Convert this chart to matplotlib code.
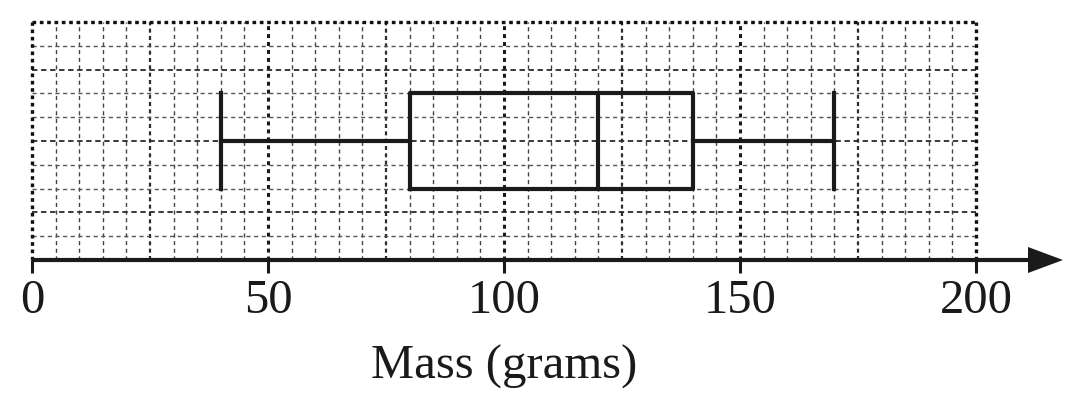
import matplotlib.pyplot as plt
import numpy as np

# five number summary
mass_min = 40
mass_q1 = 80
mass_median = 120
mass_q3 = 140
mass_max = 170

tick_values = [0, 50, 100, 150, 200]
tick_labels = ['0', '50', '100', '150', '200']
x_label = 'Mass (grams)'

plt.rcParams['font.family'] = ['Liberation Serif', 'DejaVu Serif']

W, H = 1082, 404
fig = plt.figure(figsize=(W / 100, H / 100), dpi=100)
x0_px, x_end_px, axis_px, top_px = 32, 1063, 260, 22
px_per_unit = (976 - 32) / 200
xmax = (x_end_px - x0_px) / px_per_unit
ax = fig.add_axes([x0_px / W, (H - axis_px) / H, (x_end_px - x0_px) / W, (axis_px - top_px) / H])
ax.set_xlim(0, xmax)
ax.set_ylim(0, 10)
for s in ax.spines.values():
    s.set_visible(False)

############## grid ##############
for gx in np.arange(5, 200, 5):
    if gx % 50 == 0:
        ax.plot([gx, gx], [0, 10], color='#1a1a1a', lw=2.2, dashes=(1.3, 1.3), zorder=1)
    elif gx % 25 == 0:
        ax.plot([gx, gx], [0, 10], color='#2a2a2a', lw=1.6, dashes=(1.8, 1.5), zorder=1)
    else:
        ax.plot([gx, gx], [0, 10], color='#444444', lw=1.0, dashes=(3, 2.5), zorder=1)
for gy in range(1, 10):
    if gy in (2, 5, 8):
        ax.plot([0, 200], [gy, gy], color='#2a2a2a', lw=1.3, dashes=(3, 2), zorder=1)
    else:
        ax.plot([0, 200], [gy, gy], color='#555555', lw=1.0, dashes=(3, 2.5), zorder=1)
# border
for bx in (0, 200):
    ax.plot([bx, bx], [0, 10], color='#111111', lw=2.4, dashes=(1.1, 1.1), zorder=2, clip_on=False)
ax.plot([0, 200], [10, 10], color='#111111', lw=2.4, dashes=(1.1, 1.1), zorder=2, clip_on=False)

############## box plot ##############
stats = [dict(whislo=mass_min, q1=mass_q1, med=mass_median, q3=mass_q3,
              whishi=mass_max, fliers=[])]
lw = 3.0
ax.bxp(stats, positions=[5], widths=4, capwidths=4, orientation='horizontal',
       showfliers=False, manage_ticks=False,
       boxprops=dict(color='#1a1a1a', lw=lw),
       medianprops=dict(color='#1a1a1a', lw=lw),
       whiskerprops=dict(color='#1a1a1a', lw=lw),
       capprops=dict(color='#1a1a1a', lw=lw), zorder=3)

############## axis with arrow ##############
head_start = (1028 - x0_px) / px_per_unit
half_h = 13 / ((axis_px - top_px) / 10)
ax.plot([0, head_start + 1], [0, 0], color='#1a1a1a', lw=3.0, clip_on=False, zorder=4,
        solid_capstyle='butt')
ax.fill([head_start, xmax, head_start], [half_h, 0, -half_h], color='#1a1a1a',
        clip_on=False, zorder=4, lw=0)

ax.set_yticks([])
ax.set_xticks(tick_values)
ax.set_xticklabels(tick_labels)
ax.tick_params(axis='x', direction='out', length=9, width=2.2, color='#1a1a1a',
               labelsize=35, pad=5, labelcolor='#1a1a1a')
ax.set_xlabel(x_label, fontsize=35, labelpad=15, color='#1a1a1a')
ax.xaxis.label.set_x(100 / xmax)

fig.savefig('out.png', dpi=100)
